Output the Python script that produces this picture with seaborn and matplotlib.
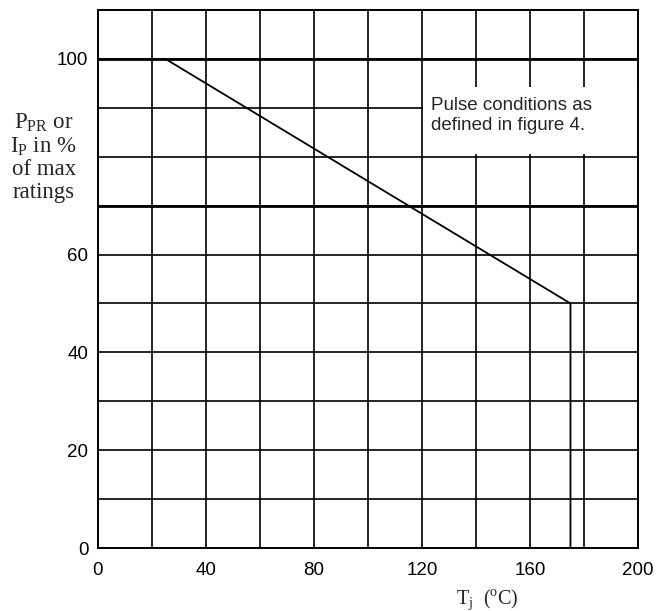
import matplotlib
matplotlib.use("Agg")
import matplotlib.pyplot as plt
import seaborn as sns
import pandas as pd
from matplotlib.patches import Rectangle

# derating curve
tj = [0, 25, 175, 175]
pct = [100, 100, 50, 0]

x_ticks = [0, 40, 80, 120, 160, 200]
y_ticks = [0, 20, 40, 60, 100]   # 80 is left out in the original
x_grid = list(range(0, 201, 20))
y_grid = list(range(0, 111, 10))
heavy_rows = [70, 100]

df = pd.DataFrame({"tj": tj, "pct": pct})

sns.set_style("white")
plt.rcParams["font.family"] = ["Liberation Sans", "DejaVu Sans"]
plt.rcParams["mathtext.fontset"] = "custom"
plt.rcParams["mathtext.rm"] = "Liberation Serif"

fig = plt.figure(figsize=(6.72, 6.11), dpi=100)
ax = fig.add_axes([0.1458, 0.1031, 0.8036, 0.8805])

sns.lineplot(data=df, x="tj", y="pct", estimator=None, sort=False,
             color="black", linewidth=1.3, ax=ax, zorder=3)

ax.set_xlim(0, 200)
ax.set_ylim(0, 110)
ax.set_xticks(x_ticks)
ax.set_yticks(y_ticks)
ax.set_xticks(x_grid, minor=True)
ax.set_yticks(y_grid, minor=True)
ax.grid(True, which="both", color="black", linewidth=1.2)
for h in heavy_rows:
    ax.axhline(h, color="black", linewidth=2.0, zorder=0.6)
ax.tick_params(which="both", length=0, labelsize=13.5, colors="black")
ax.tick_params(axis="x", pad=10)
ax.tick_params(axis="y", pad=7)
for s in ax.spines.values():
    s.set_color("black")
    s.set_linewidth(1.4)

ax.set_xlabel("")
ax.set_ylabel("")

# white box behind the note
ax.add_patch(Rectangle((120.3, 80.6), 79.7, 13.6, facecolor="white",
                       edgecolor="none", zorder=1))
ax.text(123.3, 85.5, "Pulse conditions as\ndefined in figure 4.", fontsize=13.5,
        va="baseline", ha="left", linespacing=1.2, zorder=4)

fig.text(0.065, 0.743,
         "$\\mathrm{P_{PR}}$ or\n$\\mathrm{I_{P}}$ in %\nof max\nratings",
         family="Liberation Serif", fontsize=16.5, ha="center", va="center",
         linespacing=1.1)
fig.text(0.725, 0.0115, "T$_\\mathrm{j}$  ($^\\mathrm{o}$C)",
         family="Liberation Serif", fontsize=14.5, ha="center", va="baseline")

plt.savefig("out.png", dpi=100)
